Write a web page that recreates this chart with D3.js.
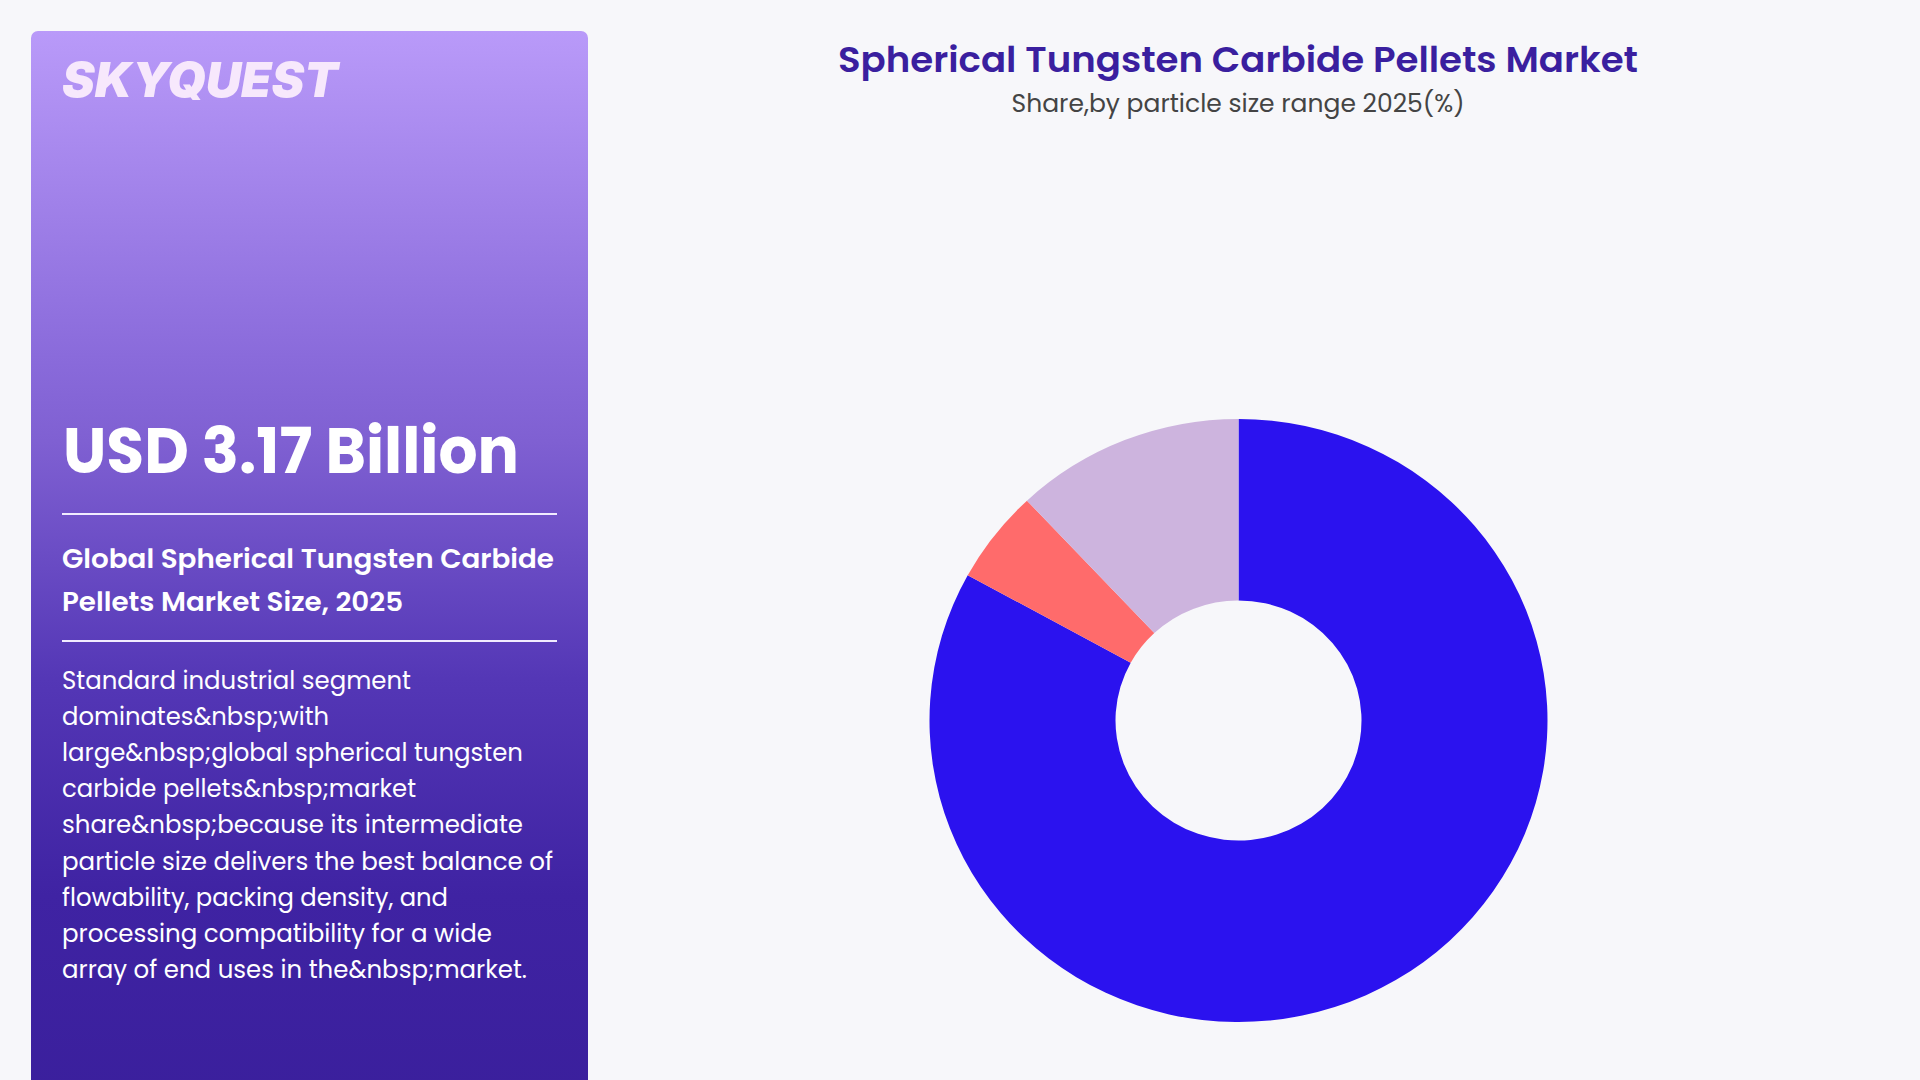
<!DOCTYPE html>
<html>
<head>
<meta charset="utf-8">
<script src="https://cdn.jsdelivr.net/npm/d3@7"></script>
<style>
  html, body { margin: 0; padding: 0; background: #f7f7fa; }
  svg { display: block; }
</style>
</head>
<body>
<svg id="chart" width="1920" height="1080"></svg>
<script>
// ---- data ----
const categories = ["Standard Industrial", "Fine", "Coarse"];
const shares = [83, 5, 12];
const colors = ["#2b12ef", "#ff6b6b", "#cdb4de"];

const chartTitle = "Spherical Tungsten Carbide Pellets Market";
const chartSubtitle = "Share,by particle size range 2025(%)";
const brand = "SKYQUEST";
const marketValue = "USD 3.17 Billion";
const headingLines = ["Global Spherical Tungsten Carbide", "Pellets Market Size, 2025"];
const bodyLines = [
  "Standard industrial segment",
  "dominates&nbsp;with",
  "large&nbsp;global spherical tungsten",
  "carbide pellets&nbsp;market",
  "share&nbsp;because its intermediate",
  "particle size delivers the best balance of",
  "flowability, packing density, and",
  "processing compatibility for a wide",
  "array of end uses in the&nbsp;market."
];
const bodyWidths = [349, 267, 461, 354, 461, 491, 386, 430, 465];

const FONT = "Poppins, Inter, 'Open Sans', sans-serif";
const svg = d3.select("#chart");

// background
svg.append("rect").attr("width", 1920).attr("height", 1080).attr("fill", "#f7f7fa");

// ---- left panel ----
const defs = svg.append("defs");
const grad = defs.append("linearGradient").attr("id", "panelGrad")
  .attr("x1", 0).attr("y1", 0).attr("x2", 0).attr("y2", 1);
[["0%", "#b99af9"], ["30%", "#8a6bdb"], ["38%", "#7f60d2"], ["60%", "#5437b6"], ["80%", "#3f23a3"], ["100%", "#3a1f9c"]]
  .forEach(([o, c]) => grad.append("stop").attr("offset", o).attr("stop-color", c));

svg.append("rect")
  .attr("x", 31).attr("y", 31).attr("width", 557).attr("height", 1080)
  .attr("rx", 7).attr("fill", "url(#panelGrad)");

svg.append("text")
  .attr("x", 62).attr("y", 97)
  .attr("font-family", "Inter, 'DejaVu Sans', sans-serif")
  .attr("font-weight", 900).attr("font-style", "italic")
  .attr("font-size", 48)
  .attr("fill", "#f7e8fc")
  .attr("textLength", 276).attr("lengthAdjust", "spacingAndGlyphs")
  .text(brand);

svg.append("text")
  .attr("x", 63).attr("y", 473)
  .attr("font-family", FONT).attr("font-weight", 700).attr("font-size", 64)
  .attr("fill", "#ffffff")
  .attr("textLength", 456).attr("lengthAdjust", "spacingAndGlyphs")
  .text(marketValue);

[514, 641].forEach(y => {
  svg.append("line").attr("x1", 62).attr("x2", 557).attr("y1", y).attr("y2", y)
    .attr("stroke", "#f1ecff").attr("stroke-width", 2);
});

const headW = [492, 341];
headingLines.forEach((t, i) => {
  svg.append("text")
    .attr("x", 62).attr("y", 568 + i * 43)
    .attr("font-family", FONT).attr("font-weight", 600).attr("font-size", 27)
    .attr("fill", "#ffffff")
    .attr("textLength", headW[i]).attr("lengthAdjust", "spacingAndGlyphs")
    .text(t);
});

bodyLines.forEach((t, i) => {
  svg.append("text")
    .attr("x", 62).attr("y", 689 + i * 36.1)
    .attr("font-family", FONT).attr("font-weight", 400).attr("font-size", 24.5)
    .attr("fill", "#ffffff")
    .attr("textLength", bodyWidths[i]).attr("lengthAdjust", "spacingAndGlyphs")
    .text(t);
});

// ---- titles ----
svg.append("text")
  .attr("x", 1238).attr("y", 72)
  .attr("text-anchor", "middle")
  .attr("font-family", FONT).attr("font-weight", 600).attr("font-size", 36)
  .attr("fill", "#3a1f9f")
  .attr("textLength", 800).attr("lengthAdjust", "spacingAndGlyphs")
  .text(chartTitle);

svg.append("text")
  .attr("x", 1238).attr("y", 112)
  .attr("text-anchor", "middle")
  .attr("font-family", FONT).attr("font-weight", 400).attr("font-size", 24)
  .attr("fill", "#444444")
  .attr("textLength", 453).attr("lengthAdjust", "spacingAndGlyphs")
  .text(chartSubtitle);

// ---- donut ----
const data = categories.map((c, i) => ({ name: c, value: shares[i], color: colors[i] }));
const pie = d3.pie().value(d => d.value).sort(null);
const outerR = 309, innerR = 123;
const arc = d3.arc().innerRadius(innerR).outerRadius(outerR);

const g = svg.append("g")
  .attr("transform", "translate(1238.5,720.5) scale(1,0.976)");

g.selectAll("path")
  .data(pie(data))
  .join("path")
  .attr("d", arc)
  .attr("fill", d => d.data.color);
</script>
</body>
</html>
